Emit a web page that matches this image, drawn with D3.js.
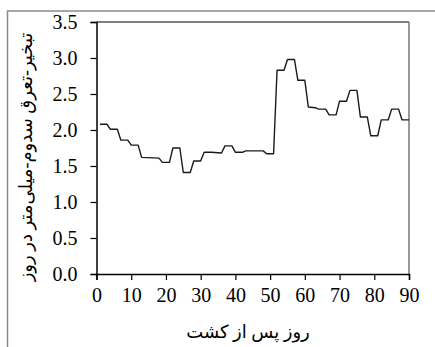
<!DOCTYPE html>
<html>
<head>
<meta charset="utf-8">
<script src="https://cdn.jsdelivr.net/npm/d3@7"></script>
<style>
  html, body { margin: 0; padding: 0; background: #fff; }
  svg { display: block; }
  .axis text { font-family: "Liberation Serif", "Times New Roman", "DejaVu Serif", serif; font-size: 20px; }
  .title { font-family: "Liberation Serif", "DejaVu Sans", serif; font-size: 18px; }
</style>
</head>
<body>
<div id="chart"></div>
<script>
// days after planting and evapotranspiration values
const days = [1, 3, 4, 6, 7, 9, 10, 12, 13, 18, 19, 21, 22, 24, 25, 27, 28, 30, 31, 33,
  36, 37, 39, 40, 42, 43, 48, 49, 51, 52, 54, 55, 57, 58, 60, 61, 63, 64, 66, 67,
  69, 70, 72, 73, 75, 76, 78, 79, 81, 82, 84, 85, 87, 88, 90];
const etValues = [2.08, 2.08, 2.01, 2.01, 1.86, 1.86, 1.79, 1.79, 1.62, 1.61, 1.55, 1.55, 1.75, 1.75, 1.41, 1.41, 1.57, 1.57, 1.69, 1.69,
  1.68, 1.78, 1.78, 1.69, 1.69, 1.71, 1.71, 1.67, 1.67, 2.83, 2.83, 2.98, 2.98, 2.69, 2.69, 2.32, 2.31, 2.29, 2.29, 2.21,
  2.21, 2.40, 2.40, 2.55, 2.55, 2.18, 2.18, 1.92, 1.92, 2.14, 2.14, 2.29, 2.29, 2.14, 2.14];
const xTicks = [0, 10, 20, 30, 40, 50, 60, 70, 80, 90];
const yTicks = [0, 0.5, 1, 1.5, 2, 2.5, 3, 3.5];
const xTitle = "روز پس از کشت";
const yTitle = "تبخیر-تعرق سدوم-میلی‌متر در روز";

const width = 435, height = 347;
const margin = { top: 22, right: 26, bottom: 73, left: 96 };

const data = days.map((d, i) => ({ day: d, value: etValues[i] }));

const svg = d3.select("#chart")
  .append("svg")
    .attr("width", width)
    .attr("height", height);

// outer frame (runs off the right and bottom edges)
svg.append("rect")
  .attr("x", 7.5)
  .attr("y", 11)
  .attr("width", 600)
  .attr("height", 600)
  .attr("fill", "none")
  .attr("stroke", "#8a8a8a")
  .attr("stroke-width", 1.5);

const x = d3.scaleLinear()
  .domain([0, 90])
  .range([margin.left + 0.5, width - margin.right]);

const y = d3.scaleLinear()
  .domain([0, 3.5])
  .range([height - margin.bottom, margin.top]);

// top border and right border of plot
svg.append("line")
  .attr("x1", x(0)).attr("x2", x(90))
  .attr("y1", y(3.5)).attr("y2", y(3.5))
  .attr("stroke", "#000").attr("stroke-width", 1.2);
svg.append("line")
  .attr("x1", x(90)).attr("x2", x(90))
  .attr("y1", y(3.5)).attr("y2", y(0))
  .attr("stroke", "#777").attr("stroke-width", 1.5);

// X axis
const gx = svg.append("g")
  .attr("class", "axis")
  .attr("transform", `translate(0, ${y(0)})`)
  .call(d3.axisBottom(x).tickValues(xTicks).tickSize(6).tickPadding(8).tickFormat(d3.format("d")));
gx.attr("font-family", null).attr("font-size", null);
gx.select(".domain").attr("stroke", "#000").attr("stroke-width", 1.5);
gx.selectAll(".tick line").attr("stroke", "#000").attr("stroke-width", 1.2);
gx.selectAll("text").attr("fill", "#000");

// Y axis
const gy = svg.append("g")
  .attr("class", "axis")
  .attr("transform", `translate(${x(0)}, 0)`)
  .call(d3.axisLeft(y).tickValues(yTicks).tickSize(6).tickPadding(13).tickFormat(d3.format(".1f")));
gy.attr("font-family", null).attr("font-size", null);
gy.select(".domain").attr("stroke", "#000").attr("stroke-width", 1.5);
gy.selectAll(".tick line").attr("stroke", "#000").attr("stroke-width", 1.2);
gy.selectAll("text").attr("fill", "#000");

// Line
const line = d3.line()
  .x(d => x(d.day))
  .y(d => y(d.value));

svg.append("path")
  .datum(data)
  .attr("fill", "none")
  .attr("stroke", "#1a1a1a")
  .attr("stroke-width", 1.4)
  .attr("stroke-linejoin", "round")
  .attr("d", line);

// Axis titles
svg.append("text")
  .attr("class", "title")
  .attr("x", 248)
  .attr("y", 338)
  .attr("text-anchor", "middle")
  .attr("direction", "rtl")
  .attr("fill", "#000")
  .text(xTitle);

svg.append("text")
  .attr("class", "title")
  .attr("transform", "translate(32, 157) rotate(-90)")
  .attr("text-anchor", "middle")
  .attr("direction", "rtl")
  .attr("fill", "#000")
  .text(yTitle);
</script>
</body>
</html>
